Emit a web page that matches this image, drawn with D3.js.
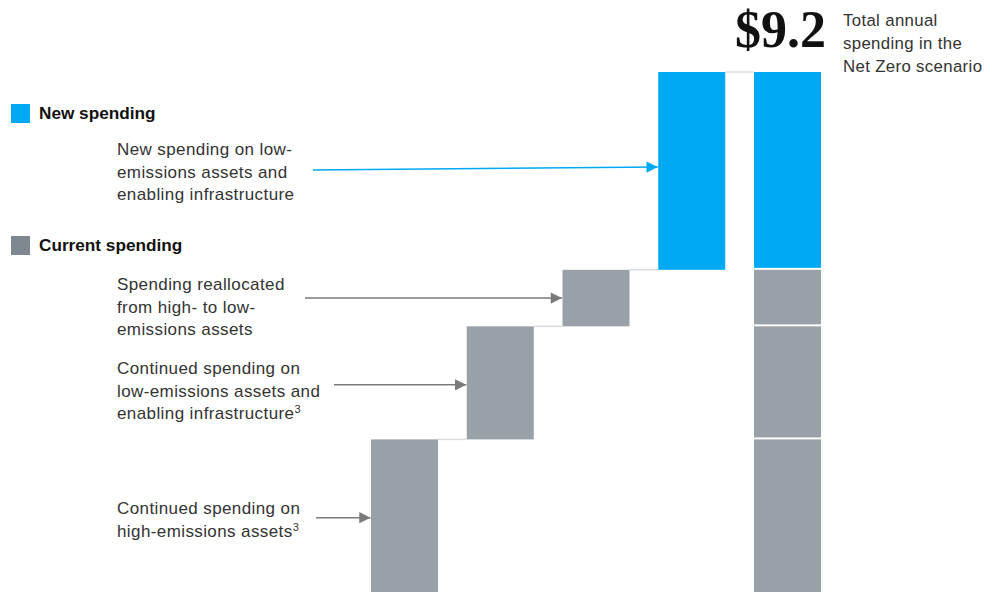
<!DOCTYPE html>
<html>
<head>
<meta charset="utf-8">
<script src="https://cdn.jsdelivr.net/npm/d3@7"></script>
<style>
  html, body { margin: 0; padding: 0; background: #fff; }
  svg { display: block; }
</style>
</head>
<body>
<svg id="chart" width="985" height="592"></svg>
<script>
// Annual spending components, $ trillion
const categories = ["highEmissions", "continuedLow", "reallocated", "newSpending", "total"];
const values = [2.7, 2.0, 1.0, 3.5];
const kinds = ["current", "current", "current", "new"];
const totalValue = 9.2;
const totalLabel = "$9.2";
const totalNote = ["Total annual", "spending in the", "Net Zero scenario"];
const legendItems = [
  { kind: "new", text: "New spending" },
  { kind: "current", text: "Current spending" }
];
const annotations = [
  { bar: 3, lines: ["New spending on low-", "emissions assets and", "enabling infrastructure"], sup: "" },
  { bar: 2, lines: ["Spending reallocated", "from high- to low-", "emissions assets"], sup: "" },
  { bar: 1, lines: ["Continued spending on", "low-emissions assets and", "enabling infrastructure"], sup: "3" },
  { bar: 0, lines: ["Continued spending on", "high-emissions assets"], sup: "3" }
];

const colors = { new: "#00a9f4", current: "#9aa0a8", legendCurrent: "#7f8890", connector: "#dcdcdc", arrowGray: "#7a7a7a" };
const font = "'Liberation Sans', Arial, sans-serif";

const svg = d3.select("#chart");

const x = d3.scaleBand().domain(categories).range([371, 821]).paddingInner(0.3).paddingOuter(0);
const y = d3.scaleLinear().domain([0, totalValue]).range([592, 72]);

// cumulative starts/ends for the floating bars
let run = 0;
const steps = values.map((v, i) => {
  const s = { cat: categories[i], start: run, end: run + v, kind: kinds[i] };
  run += v;
  return s;
});

// connectors between consecutive bars
const connectorTargets = steps.map((s, i) => categories[i + 1]);
svg.append("g").selectAll("line").data(steps).join("line")
  .attr("x1", d => x(d.cat) + x.bandwidth())
  .attr("x2", (d, i) => x(connectorTargets[i]))
  .attr("y1", d => y(d.end)).attr("y2", d => y(d.end))
  .attr("stroke", colors.connector).attr("stroke-width", 1.5);

// floating bars
svg.append("g").selectAll("rect").data(steps).join("rect")
  .attr("x", d => x(d.cat))
  .attr("width", x.bandwidth())
  .attr("y", d => y(d.end))
  .attr("height", d => y(d.start) - y(d.end))
  .attr("fill", d => colors[d.kind]);

// stacked total bar with white separators
svg.append("g").selectAll("rect").data(steps).join("rect")
  .attr("x", x("total"))
  .attr("width", x.bandwidth())
  .attr("y", d => y(d.end))
  .attr("height", (d, i) => y(d.start) - y(d.end) - (i === 0 ? 0 : 2))
  .attr("fill", d => colors[d.kind]);

// total value and note
svg.append("text")
  .attr("x", x("total") + x.bandwidth() + 5).attr("y", 47)
  .attr("text-anchor", "end")
  .attr("font-family", "'Liberation Serif', 'DejaVu Serif', serif")
  .attr("font-weight", "bold").attr("font-size", 52)
  .attr("fill", "#111")
  .text(totalLabel);

svg.append("text")
  .attr("font-family", font).attr("font-size", 16.8).attr("letter-spacing", 0.35).attr("fill", "#333")
  .selectAll("tspan").data(totalNote).join("tspan")
  .attr("x", 843).attr("y", (d, i) => 26 + i * 23)
  .text(d => d);

// legend
const legendY = [113, 245];
const lg = svg.append("g").selectAll("g").data(legendItems).join("g")
  .attr("transform", (d, i) => `translate(11,${legendY[i]})`);
lg.append("rect").attr("x", 0).attr("y", -9).attr("width", 19).attr("height", 19)
  .attr("fill", d => d.kind === "new" ? colors.new : colors.legendCurrent);
lg.append("text").attr("x", 28).attr("y", 6)
  .attr("font-family", font).attr("font-weight", "bold").attr("font-size", 17.2).attr("fill", "#111")
  .text(d => d.text);

// annotation labels and arrows
const labelTop = [155, 290, 374, 514];
const arrowStartX = [313, 305, 334, 316];
const arrowStartDy = [-1, 0, 2, 2];
const arrowEndDy = [-4, 0, 2, 2];

const defs = svg.append("defs");
[["arrowBlue", colors.new], ["arrowGray", colors.arrowGray]].forEach(([id, c]) => {
  defs.append("marker").attr("id", id)
    .attr("viewBox", "0 0 10 10").attr("refX", 10).attr("refY", 5)
    .attr("markerWidth", 8).attr("markerHeight", 7.5).attr("markerUnits", "strokeWidth")
    .attr("orient", "auto")
    .append("path").attr("d", "M0,0 L10,5 L0,10 Z").attr("fill", c);
});

annotations.forEach((a, k) => {
  const t = svg.append("text")
    .attr("font-family", font).attr("font-size", 17).attr("letter-spacing", 0.4).attr("fill", "#333");
  a.lines.forEach((line, i) => {
    t.append("tspan").attr("x", 117).attr("y", labelTop[k] + i * 22.7).text(line);
    if (i === a.lines.length - 1 && a.sup) {
      t.append("tspan").attr("font-size", 11).attr("dy", -6).text(a.sup);
    }
  });
  const s = steps[a.bar];
  const yMid = (y(s.start) + y(s.end)) / 2;
  const isNew = s.kind === "new";
  svg.append("line")
    .attr("x1", arrowStartX[k]).attr("y1", yMid + arrowStartDy[k])
    .attr("x2", x(s.cat) - 0.5).attr("y2", yMid + arrowEndDy[k])
    .attr("stroke", isNew ? colors.new : colors.arrowGray)
    .attr("stroke-width", 1.5)
    .attr("marker-end", `url(#${isNew ? "arrowBlue" : "arrowGray"})`);
});
</script>
</body>
</html>
